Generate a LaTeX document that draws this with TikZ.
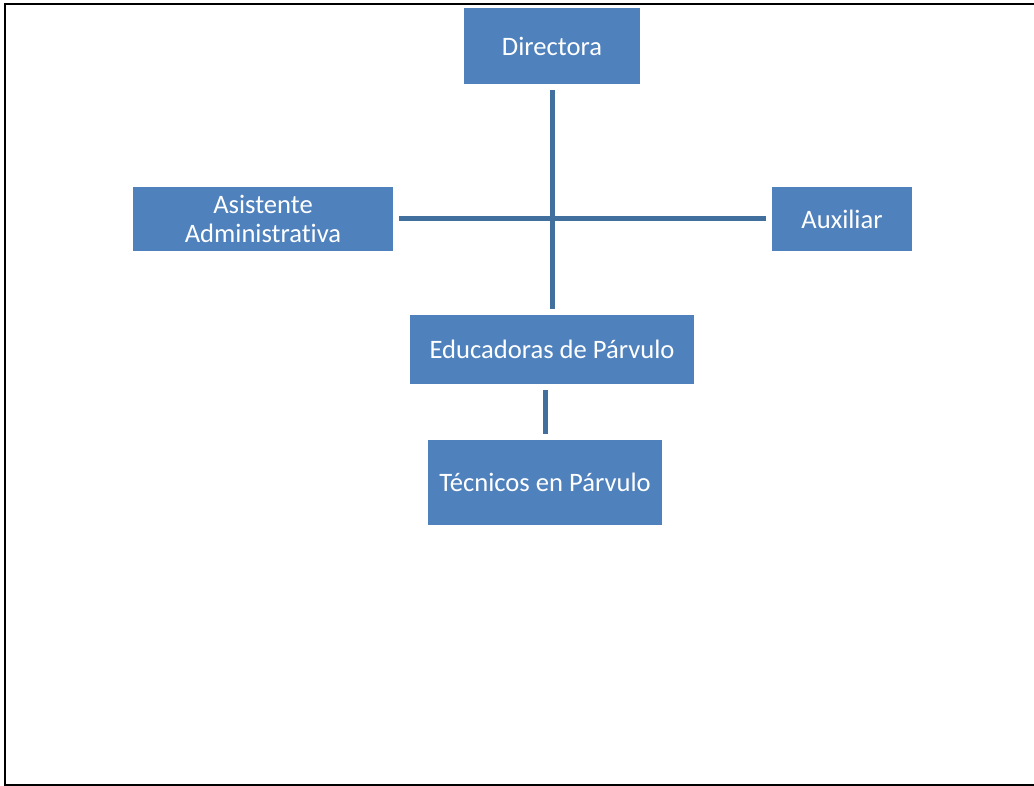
\documentclass[tikz,border=0pt]{standalone}
\usepackage{fontspec}
\setmainfont{Carlito}[RawFeature={-liga}]
\definecolor{boxblue}{HTML}{4F81BD}
\definecolor{lineblue}{HTML}{41709F}
\tikzset{
  cargo/.style={fill=boxblue,text=white,align=center,inner sep=0pt,
    font=\fontsize{26.6}{29}\selectfont},
  enlace/.style={draw=lineblue,line width=5pt,shorten >=6pt,shorten <=6pt}
}
\begin{document}
\begin{tikzpicture}[x=1pt,y=-1pt]
\useasboundingbox (0,0) rectangle (1034,786);
\draw[line width=2pt] (1040,4) -- (5,4) -- (5,785) -- (1040,785);
\node[cargo,minimum width=176pt,minimum height=76pt] (dir) at (552,46) {Directora};
\node[cargo,minimum width=260pt,minimum height=64pt] (asi) at (263,219) {Asistente\\Administrativa};
\node[cargo,minimum width=140pt,minimum height=64pt] (aux) at (842,219) {Auxiliar};
\node[cargo,minimum width=284pt,minimum height=69pt] (edu) at (552,349.5) {Educadoras de Párvulo};
\node[cargo,minimum width=234pt,minimum height=85pt] (tec) at (545,482.5) {Técnicos en Párvulo};
\draw[enlace] (dir) -- (edu);
\draw[enlace] (asi) -- (aux);
\draw[enlace] (edu.south -| tec.north) -- (tec.north);
\end{tikzpicture}
\end{document}
